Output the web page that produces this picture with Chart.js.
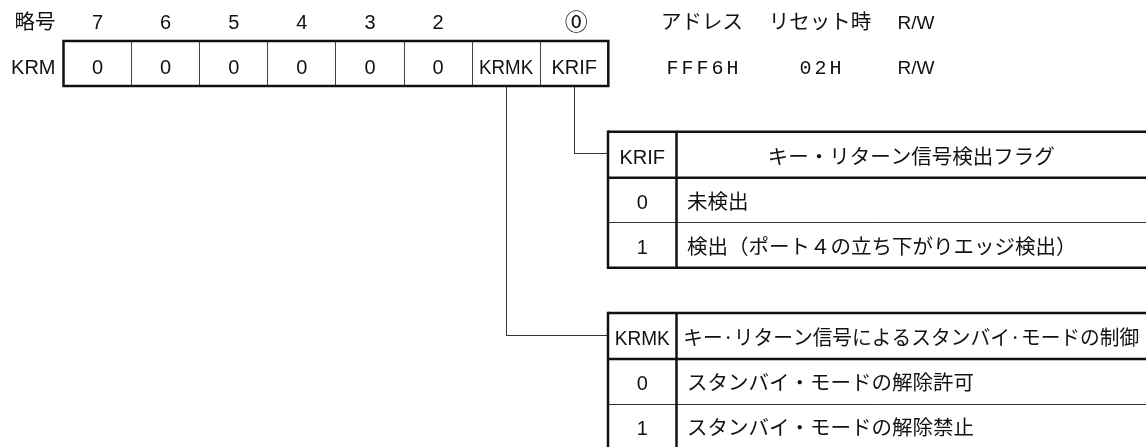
<!DOCTYPE html>
<html>
<head>
<meta charset="utf-8">
<script src="https://cdn.jsdelivr.net/npm/chart.js@4/dist/chart.umd.min.js"></script>
<style>
html,body{margin:0;padding:0;background:#fff;}
#wrap{width:1146px;height:447px;}
</style>
</head>
<body>
<div id="wrap"><canvas id="c" width="1146" height="447"></canvas></div>
<script>
// ---- content (data) ----
const symbolLabel = '略号';
const regName = 'KRM';
const bitLabels = ['7','6','5','4','3','2','','⓪'];
const bitCells = ['0','0','0','0','0','0','KRMK','KRIF'];
const infoHeads = ['アドレス','リセット時','R/W'];
const infoVals = ['FFF6H','02H','R/W'];
const krifFlag = 'KRIF';
const krifTitle = 'キー・リターン信号検出フラグ';
const krifCodes = ['0','1'];
const krifDescs = ['未検出','検出（ポート４の立ち下がりエッジ検出）'];
const krmkFlag = 'KRMK';
const krmkTitle = 'キー·リターン信号によるスタンバイ·モードの制御';
const krmkCodes = ['0','1'];
const krmkDescs = ['スタンバイ・モードの解除許可','スタンバイ・モードの解除禁止'];

// ---- layout (positions/sizes, not data) ----
const W = 1146, H = 447;
const regLeft = 63.5, cellW = 68.1, regTop = 41, regBottom = 86;
const row1Base = 28.5, row2Base = 74;
const labelRight = 55.5;
const infoX = [702, 820, 916];
const tblLeft = 608, tblDiv = 676.5, tblRight = 1152;
const krifTop = 131.7, krmkTop = 313, hdrH = 46, rowH = 45;
const LAT = '"Liberation Sans", Arial, sans-serif';
const CJK = '"Noto Sans CJK JP", "Noto Sans CJK SC", sans-serif';
const INK = '#111';

const snap = v => Math.floor(v) + 0.5;
const cellCenter = i => regLeft + (i + 0.5) * cellW;
const krifIdx = bitCells.indexOf(krifFlag);
const krmkIdx = bitCells.indexOf(krmkFlag);

const connKRIF = [
  {x: snap(cellCenter(krifIdx)), y: regBottom},
  {x: snap(cellCenter(krifIdx)), y: snap(krifTop + 22)},
  {x: tblLeft, y: snap(krifTop + 22)}
];
const connKRMK = [
  {x: snap(cellCenter(krmkIdx)), y: regBottom},
  {x: snap(cellCenter(krmkIdx)), y: snap(krmkTop + 22)},
  {x: tblLeft, y: snap(krmkTop + 22)}
];

const diagram = {
  id: 'diagram',
  afterDatasetsDraw(chart) {
    const ctx = chart.ctx;
    const sx = chart.scales.x, sy = chart.scales.y;
    const X = v => sx.getPixelForValue(v);
    const Y = v => sy.getPixelForValue(v);
    const line = (x1, y1, x2, y2, w, col) => {
      ctx.save();
      ctx.beginPath();
      ctx.lineWidth = w; ctx.strokeStyle = col || INK; ctx.lineCap = 'butt';
      ctx.moveTo(X(x1), Y(y1)); ctx.lineTo(X(x2), Y(y2));
      ctx.stroke();
      ctx.restore();
    };
    const txt = (s, x, y, align, font, maxW, spacing) => {
      ctx.save();
      ctx.font = font; ctx.fillStyle = INK; ctx.textAlign = align; ctx.textBaseline = 'alphabetic';
      if (spacing) ctx.letterSpacing = spacing;
      if (maxW) ctx.fillText(s, X(x), Y(y), maxW); else ctx.fillText(s, X(x), Y(y));
      ctx.restore();
    };

    // header row
    txt(symbolLabel, labelRight, row1Base, 'right', '20.5px ' + CJK);
    bitLabels.forEach((b, i) => {
      if (!b) return;
      if (b === '⓪') txt(b, cellCenter(i) + 2, row1Base + 1, 'center', '23px "DejaVu Sans", ' + CJK);
      else txt(b, cellCenter(i), row1Base, 'center', '20px ' + LAT);
    });
    infoHeads.forEach((h, i) => {
      const f = /^[A-Za-z\/]+$/.test(h) ? '19px ' + LAT : '20.5px ' + CJK;
      txt(h, infoX[i], row1Base, 'center', f);
    });

    // register row
    txt(regName, labelRight, row2Base, 'right', '20px ' + LAT);
    for (let i = 1; i < bitCells.length; i++) {
      const x = snap(regLeft + i * cellW);
      line(x, regTop, x, regBottom, 1, '#444');
    }
    ctx.save();
    ctx.lineWidth = 2.5; ctx.strokeStyle = INK;
    ctx.strokeRect(X(regLeft), Y(regTop), X(regLeft + bitCells.length * cellW) - X(regLeft), Y(regBottom) - Y(regTop));
    ctx.restore();
    bitCells.forEach((c, i) => txt(c, cellCenter(i), row2Base, 'center', '20px ' + LAT, cellW - 14));
    infoVals.forEach((v, i) => {
      if (v === 'R/W') txt(v, infoX[i], row2Base, 'center', '19px ' + LAT);
      else txt(v, infoX[i] + 2, row2Base, 'center', '20px "Liberation Mono", monospace', null, '3px');
    });

    // tables
    const table = (top, flag, title, codes, descs) => {
      const bottoms = [top + hdrH];
      codes.forEach((c, i) => bottoms.push(top + hdrH + (i + 1) * rowH));
      const bottom = bottoms[bottoms.length - 1];
      line(tblLeft, top, tblRight, top, 2.5);
      line(tblLeft, bottoms[0], tblRight, bottoms[0], 2.5);
      for (let i = 1; i < bottoms.length - 1; i++) line(tblLeft, snap(bottoms[i]), tblRight, snap(bottoms[i]), 1, '#333');
      line(tblLeft, bottom, tblRight, bottom, 2.5);
      line(tblLeft, top - 1.25, tblLeft, bottom + 1.25, 2.5);
      line(tblDiv, top, tblDiv, bottom, 2.5);
      const cx = (tblLeft + tblDiv) / 2;
      txt(flag, cx, top + hdrH - 14, 'center', '20px ' + LAT, 55);
      txt(title, (tblDiv + W) / 2, top + hdrH - 14, 'center', '20.5px ' + CJK, 456);
      codes.forEach((c, i) => {
        const b = bottoms[i + 1] - 14;
        txt(c, cx, b, 'center', '20px ' + LAT);
        txt(descs[i], tblDiv + 10.5, b, 'left', '20.5px ' + CJK);
      });
    };
    table(krifTop, krifFlag, krifTitle, krifCodes, krifDescs);
    table(krmkTop, krmkFlag, krmkTitle, krmkCodes, krmkDescs);
  }
};

new Chart(document.getElementById('c'), {
  type: 'scatter',
  data: {
    datasets: [
      {label: krifFlag, data: connKRIF, showLine: true, borderColor: '#333', borderWidth: 1, pointRadius: 0, tension: 0, fill: false},
      {label: krmkFlag, data: connKRMK, showLine: true, borderColor: '#333', borderWidth: 1, pointRadius: 0, tension: 0, fill: false}
    ]
  },
  options: {
    responsive: false,
    animation: false,
    devicePixelRatio: 1,
    events: [],
    layout: {padding: 0},
    plugins: {legend: {display: false}, tooltip: {enabled: false}, title: {display: false}},
    scales: {
      x: {type: 'linear', min: 0, max: W, display: false},
      y: {type: 'linear', min: 0, max: H, reverse: true, display: false}
    }
  },
  plugins: [diagram]
});
</script>
</body>
</html>
